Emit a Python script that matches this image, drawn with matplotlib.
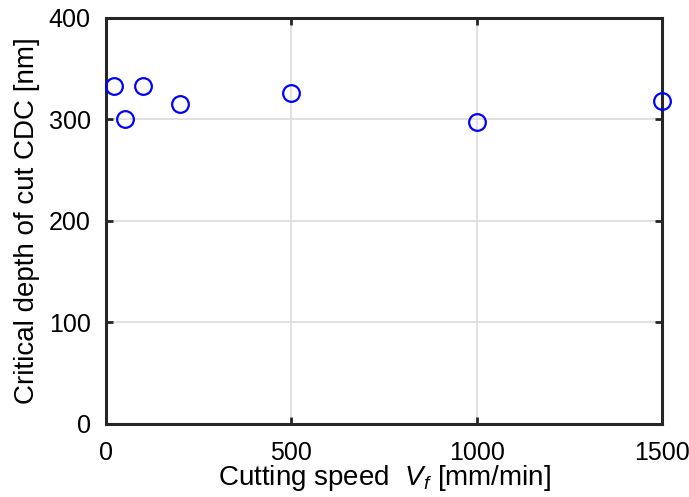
import matplotlib
matplotlib.use("Agg")
import matplotlib.pyplot as plt

plt.rcParams["font.family"] = ["Liberation Sans", "DejaVu Sans"]
plt.rcParams["mathtext.fontset"] = "custom"
plt.rcParams["mathtext.it"] = "Liberation Sans:italic"
plt.rcParams["mathtext.rm"] = "Liberation Sans"

cutting_speed = [20, 50, 100, 200, 500, 1000, 1500]
critical_depth = [333, 300, 333, 315, 326, 297, 318]

x_ticks = [0, 500, 1000, 1500]
y_ticks = [0, 100, 200, 300, 400]

fig = plt.figure(figsize=(6.89, 4.97), dpi=100)
ax = fig.add_axes([0.154, 0.147, 0.807, 0.817])

ax.plot(cutting_speed, critical_depth, linestyle="none", marker="o",
        markersize=12, markerfacecolor="none", markeredgecolor="#0000ff",
        markeredgewidth=1.6, clip_on=False, zorder=5)

ax.set_xlim(0, 1500)
ax.set_ylim(0, 400)
ax.set_xticks(x_ticks)
ax.set_yticks(y_ticks)
ax.grid(True, color="#dcdcdc", linewidth=1.2)
ax.set_axisbelow(True)

for spine in ax.spines.values():
    spine.set_linewidth(2.2)
    spine.set_color("#262626")
ax.tick_params(direction="in", length=5, width=2, top=True, right=True,
               labelsize=18, colors="#262626", labelcolor="black")
ax.tick_params(axis="x", pad=12)
ax.tick_params(axis="y", pad=11)

ax.set_xlabel("Cutting speed  $V_f$ [mm/min]", fontsize=20, labelpad=-1)
ax.set_ylabel("Critical depth of cut CDC [nm]", fontsize=20, labelpad=6)

fig.savefig("out.png", dpi=100)
